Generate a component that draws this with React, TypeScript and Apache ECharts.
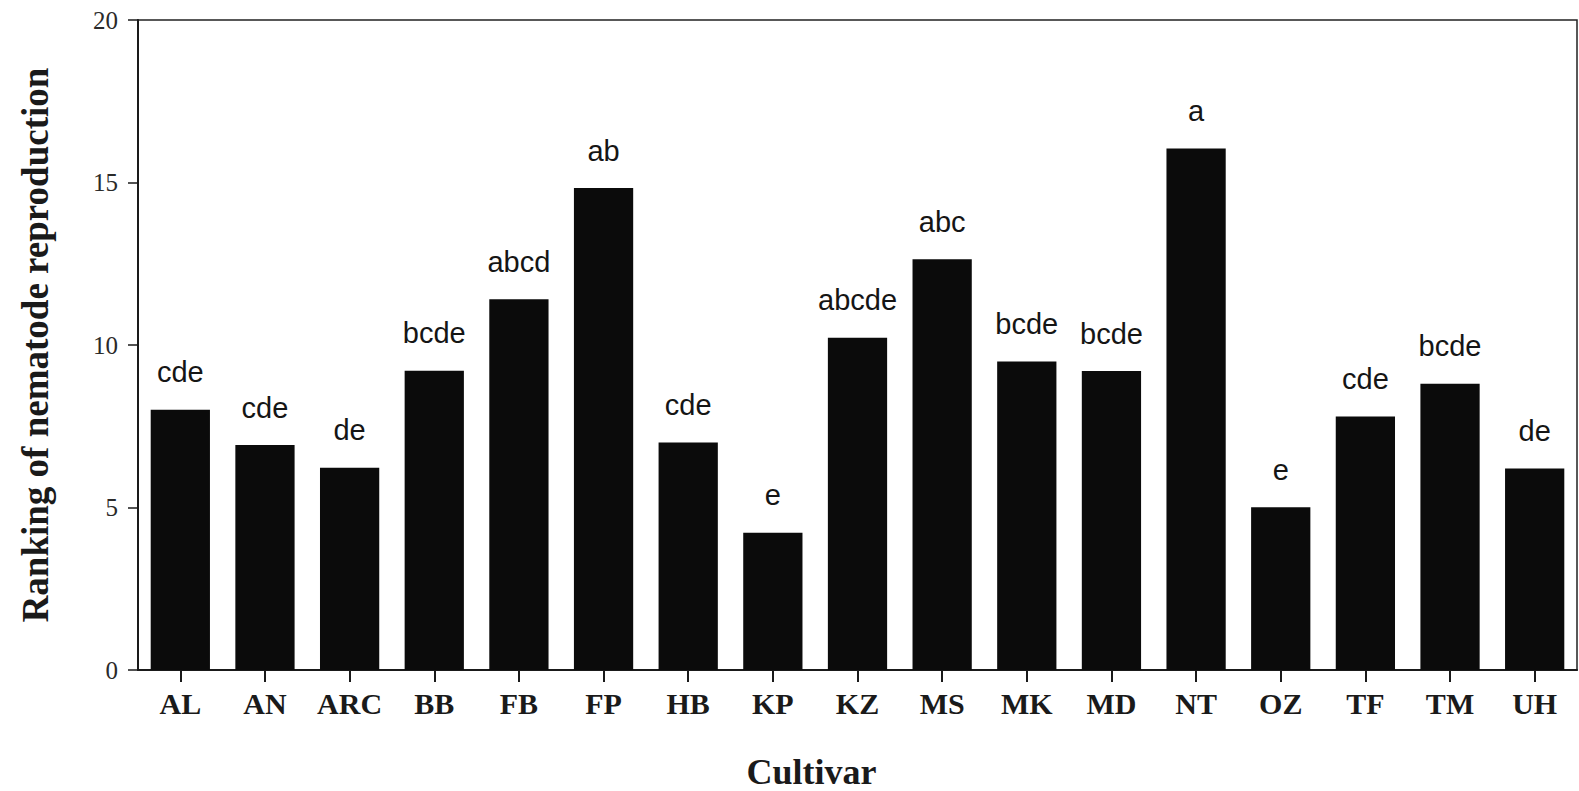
import React, { useEffect, useRef } from "react";
import * as echarts from "echarts";

const cultivars = ["AL", "AN", "ARC", "BB", "FB", "FP", "HB", "KP", "KZ", "MS", "MK", "MD", "NT", "OZ", "TF", "TM", "UH"];
const ranking = [8.01, 6.92, 6.22, 9.21, 11.41, 14.83, 7.0, 4.22, 10.22, 12.64, 9.49, 9.2, 16.05, 5.01, 7.8, 8.81, 6.2];
const letters = ["cde", "cde", "de", "bcde", "abcd", "ab", "cde", "e", "abcde", "abc", "bcde", "bcde", "a", "e", "cde", "bcde", "de"];
const yTicks = [0, 5, 10, 15, 20];

export default function App() {
  const ref = useRef<HTMLDivElement>(null);
  useEffect(() => {
    if (!ref.current) return;
    const chart = echarts.init(ref.current, null, { renderer: "svg" });
    const serif = "'Liberation Serif', 'Times New Roman', serif";
    chart.setOption({
      animation: false,
      backgroundColor: "#ffffff",
      grid: {
        left: 138,
        right: 2,
        top: 20,
        bottom: 121,
        show: true,
        borderColor: "#222",
        borderWidth: 1.5,
        containLabel: false,
        outerBoundsMode: "none",
      },
      xAxis: {
        type: "category",
        data: cultivars,
        name: "Cultivar",
        nameLocation: "middle",
        nameGap: 84,
        nameTextStyle: {
          fontFamily: serif,
          fontWeight: "bold",
          fontSize: 36,
          color: "#1a1a1a",
          padding: [0, 92, 0, 0],
        },
        axisLine: { show: true, lineStyle: { color: "#1a1a1a", width: 2 } },
        axisTick: { show: true, alignWithLabel: true, length: 12, lineStyle: { color: "#1a1a1a", width: 2 } },
        axisLabel: {
          fontFamily: serif,
          fontWeight: "bold",
          fontSize: 30,
          color: "#1a1a1a",
          margin: 18,
        },
        splitLine: { show: false },
      },
      yAxis: {
        type: "value",
        min: 0,
        max: 20,
        interval: 5,
        name: "Ranking of nematode reproduction",
        nameLocation: "middle",
        nameGap: 84,
        nameTextStyle: {
          fontFamily: serif,
          fontWeight: "bold",
          fontSize: 37,
          color: "#1a1a1a",
        },
        axisLine: { show: true, lineStyle: { color: "#1a1a1a", width: 2 } },
        axisTick: { show: true, length: 10, lineStyle: { color: "#1a1a1a", width: 1.5 } },
        axisLabel: {
          fontFamily: serif,
          fontSize: 25,
          color: "#2a2a2a",
          margin: 20,
          formatter: (v: number) => (yTicks.includes(v) ? String(v) : ""),
        },
        splitLine: { show: false },
      },
      series: [
        {
          type: "bar",
          barCategoryGap: "30%",
          itemStyle: { color: "#0b0b0b" },
          data: ranking.map((v, i) => ({
            value: v,
            label: {
              show: true,
              position: "top",
              distance: 23,
              formatter: letters[i],
              fontFamily: "'Liberation Sans', Arial, sans-serif",
              fontSize: 29,
              color: "#151515",
            },
          })),
        },
      ],
    });
    return () => chart.dispose();
  }, []);
  return (
    <div
      ref={ref}
      style={{ position: "fixed", left: 0, top: 0, width: 1579, height: 791, background: "#fff" }}
    />
  );
}
